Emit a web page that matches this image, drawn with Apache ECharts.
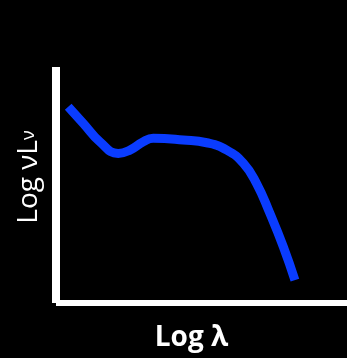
<!DOCTYPE html>
<html>
<head>
<meta charset="utf-8">
<script src="https://cdn.jsdelivr.net/npm/echarts@6/dist/echarts.min.js"></script>
<style>
html,body{margin:0;padding:0;background:#000;}
#c{width:347px;height:358px;}
</style>
</head>
<body>
<div id="c"></div>
<script>
// Curve (schematic SED): x = log λ (arbitrary units), y = log νLν (arbitrary)
const xValues = [4.2, 9.4, 15.1, 21.4, 25.4, 30.0, 33.4, 43.7, 51.8, 58.7, 64.4, 68.9, 73.5, 78.1, 82.1];
const yValues = [83.2, 76.1, 68.3, 63.4, 64.8, 68.3, 69.8, 69.1, 67.9, 64.8, 59.2, 50.7, 38.0, 23.9, 9.7];
const xAxisName = 'Log λ';
const yAxisName = 'Log νL{s|ν}';

const chart = echarts.init(document.getElementById('c'));
chart.setOption({
  backgroundColor: '#000',
  animation: false,
  grid: {left: 56, right: 0, top: 67, bottom: 55},
  xAxis: {
    type: 'value', min: 0, max: 100,
    axisLine: {show: true, lineStyle: {color: '#fff', width: 6, cap: 'butt'}},
    axisTick: {show: false}, axisLabel: {show: false}, splitLine: {show: false},
    name: xAxisName, nameLocation: 'middle', nameGap: 21,
    nameTextStyle: {color: '#fff', fontSize: 28, fontWeight: 'bold', fontFamily: 'Open Sans', padding: [0, 20, 0, 0]}
  },
  yAxis: {
    type: 'value', min: 0, max: 100,
    axisLine: {show: true, lineStyle: {color: '#fff', width: 8, cap: 'butt'}},
    axisTick: {show: false}, axisLabel: {show: false}, splitLine: {show: false},
    name: yAxisName, nameLocation: 'middle', nameGap: 13,
    nameTextStyle: {color: '#fff', fontSize: 28, fontFamily: 'Open Sans', padding: [0, 0, 0, 16],
      rich: {s: {fontSize: 18, color: '#fff', fontFamily: 'Open Sans'}}}
  },
  series: [{
    type: 'line',
    data: xValues.map((x, i) => [x, yValues[i]]),
    smooth: 0.5,
    showSymbol: false,
    lineStyle: {color: '#0a3cff', width: 9, cap: 'butt'}
  }]
});
</script>
</body>
</html>
